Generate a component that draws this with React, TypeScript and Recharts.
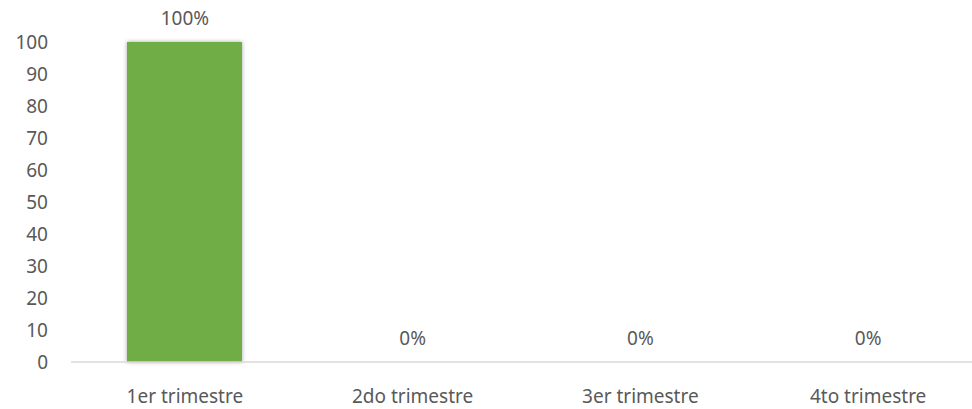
import React from "react";
import { Bar, Line, XAxis, YAxis, LabelList, ComposedChart } from "recharts";

const categories = ["1er trimestre", "2do trimestre", "3er trimestre", "4to trimestre"];
const values = [100, 0, 0, 0];
const labels = ["100%", "0%", "0%", "0%"];
const yTicks = [0, 10, 20, 30, 40, 50, 60, 70, 80, 90, 100];

const data = categories.map((c, i) => ({ name: c, value: values[i], label: labels[i] }));

const FONT = "'Noto Sans', sans-serif";
const FS = 19;

export default function App() {
  return (
    <div style={{ position: "absolute", left: 0, top: 0, width: 972, height: 409, overflow: "hidden", background: "#fff" }}>
      <ComposedChart width={982} height={409} data={data} margin={{ top: 42, right: 0, bottom: 17, left: 0 }} barSize={115}>
        <defs>
          <filter id="barShadow" x="-20%" y="-5%" width="140%" height="110%">
            <feDropShadow dx="0" dy="0" stdDeviation="2" floodColor="#000" floodOpacity="0.35" />
          </filter>
        </defs>
        <XAxis
          dataKey="name"
          axisLine={{ stroke: "#d9d9d9", strokeWidth: 1.5 }}
          tickLine={false}
          tickSize={0}
          tickMargin={28}
          height={30}
          tick={{ fill: "#595959", fontSize: FS, fontFamily: FONT }}
          interval={0}
        />
        <YAxis
          width={71}
          domain={[0, 100]}
          ticks={yTicks}
          axisLine={false}
          tickLine={false}
          tickSize={0}
          tickMargin={23}
          tick={{ fill: "#595959", fontSize: FS, fontFamily: FONT }}
          interval={0}
        />
        <Bar dataKey="value" fill="#70AD47" isAnimationActive={false} style={{ filter: "url(#barShadow)" }} />
        <Line dataKey="value" stroke="none" dot={false} activeDot={false} isAnimationActive={false} legendType="none">
          <LabelList dataKey="label" position="top" offset={17} fill="#595959" fontSize={FS} fontFamily={FONT} />
        </Line>
      </ComposedChart>
    </div>
  );
}
